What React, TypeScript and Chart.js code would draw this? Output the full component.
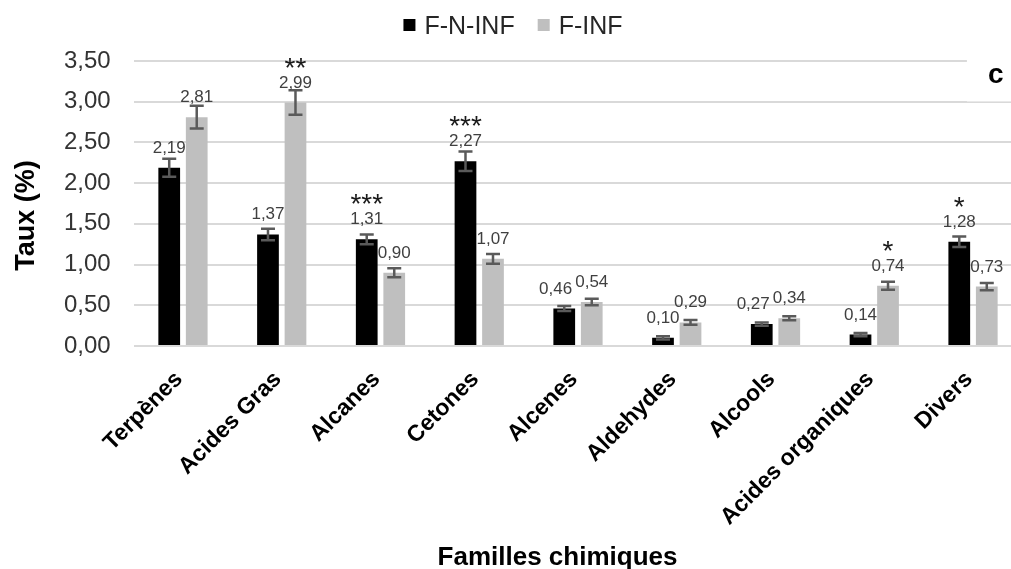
import React, { useEffect, useRef } from "react";
import { Chart, registerables } from "chart.js";

Chart.register(...registerables);

// ---- data ----
const categories = [
  "Terpènes",
  "Acides Gras",
  "Alcanes",
  "Cetones",
  "Alcenes",
  "Aldehydes",
  "Alcools",
  "Acides organiques",
  "Divers",
];
const seriesNames = ["F-N-INF", "F-INF"];
const fNInf = [2.19, 1.37, 1.31, 2.27, 0.46, 0.1, 0.27, 0.14, 1.28];
const fInf = [2.81, 2.99, 0.9, 1.07, 0.54, 0.29, 0.34, 0.74, 0.73];
const errNInf = [0.11, 0.07, 0.06, 0.12, 0.03, 0.02, 0.02, 0.02, 0.065];
const errInf = [0.14, 0.15, 0.055, 0.06, 0.04, 0.03, 0.025, 0.05, 0.045];
const sigNInf = ["", "", "***", "***", "", "", "", "", "*"];
const sigInf = ["", "**", "", "", "", "", "", "*", ""];
const yMin = 0;
const yMax = 3.5;
const yStep = 0.5;
const yTitle = "Taux (%)";
const xTitle = "Familles chimiques";
const panelLetter = "c";

// ---- styles ----
const FONT = "'Liberation Sans', Arial, sans-serif";
const COLORS = ["#000000", "#bfbfbf"];
const fmt = (v: number) => v.toFixed(2).replace(".", ",");

const overlayPlugin = {
  id: "overlay",
  beforeDatasetsDraw(chart: any) {
    const { ctx, chartArea } = chart;
    const y = chart.scales.y;
    ctx.save();
    ctx.fillStyle = "#ffffff";
    const top = y.getPixelForValue(yMax) - 3;
    const bot = y.getPixelForValue(3.0) - 0.3;
    ctx.fillRect(chartArea.right - 55.5, top, chart.width, bot - top);
    ctx.restore();
  },
  afterDatasetsDraw(chart: any) {
    const { ctx } = chart;
    const y = chart.scales.y;
    const errs = [errNInf, errInf];
    const sigs = [sigNInf, sigInf];
    ctx.save();
    // error bars
    ctx.strokeStyle = "#5a5a5a";
    ctx.lineWidth = 2.5;
    chart.data.datasets.forEach((ds: any, di: number) => {
      const meta = chart.getDatasetMeta(di);
      meta.data.forEach((bar: any, i: number) => {
        const v = ds.data[i];
        const e = errs[di][i];
        const yt = y.getPixelForValue(v + e);
        const yb = y.getPixelForValue(v - e);
        const x = bar.x;
        ctx.beginPath();
        ctx.moveTo(x, yt);
        ctx.lineTo(x, yb);
        ctx.moveTo(x - 7, yt);
        ctx.lineTo(x + 7, yt);
        ctx.moveTo(x - 7, yb);
        ctx.lineTo(x + 7, yb);
        ctx.stroke();
      });
    });
    // value labels + significance
    const m0 = chart.getDatasetMeta(0).data;
    const m1 = chart.getDatasetMeta(1).data;
    categories.forEach((_, i) => {
      ctx.font = `17px ${FONT}`;
      const t0 = fmt(fNInf[i]);
      const t1 = fmt(fInf[i]);
      const w0 = ctx.measureText(t0).width;
      const w1 = ctx.measureText(t1).width;
      let x0 = m0[i].x;
      const x1 = m1[i].x;
      const b0 = m0[i].y - 15;
      const b1 = m1[i].y - 15;
      const vOverlap = b0 > b1 - 13 && b1 > b0 - 13;
      const hOverlap = x0 + w0 / 2 - (x1 - w1 / 2);
      if (vOverlap && hOverlap > -2) x0 -= hOverlap + 3;
      ctx.fillStyle = "#404040";
      ctx.textAlign = "center";
      ctx.textBaseline = "alphabetic";
      ctx.fillText(t0, x0, b0);
      ctx.fillText(t1, x1, b1);
      ctx.font = `28px ${FONT}`;
      ctx.fillStyle = "#1a1a1a";
      if (sigs[0][i]) ctx.fillText(sigs[0][i], x0, b0 - 11);
      if (sigs[1][i]) ctx.fillText(sigs[1][i], x1, b1 - 11);
    });
    ctx.restore();
  },
  afterDraw(chart: any) {
    const { ctx, chartArea } = chart;
    const y = chart.scales.y;
    ctx.save();
    ctx.fillStyle = "#000";
    ctx.font = `bold 28px ${FONT}`;
    ctx.textAlign = "center";
    ctx.textBaseline = "alphabetic";
    ctx.fillText(panelLetter, chartArea.right - 26.5, y.getPixelForValue(yMax) + 22);

    ctx.font = `bold 26px ${FONT}`;
    ctx.fillText(xTitle, (chartArea.left + chartArea.right) / 2 - 20.5, chartArea.bottom + 219);

    ctx.save();
    ctx.translate(33.5, (chartArea.top + chartArea.bottom) / 2 + 12);
    ctx.rotate(-Math.PI / 2);
    ctx.font = `bold 27px ${FONT}`;
    ctx.fillText(yTitle, 0, 0);
    ctx.restore();

    // legend
    ctx.font = `25px ${FONT}`;
    ctx.textAlign = "left";
    const box = 12;
    const gapBT = 9;
    const gapItems = 23;
    const widths = seriesNames.map((s) => ctx.measureText(s).width);
    const total =
      widths.reduce((a, w) => a + box + gapBT + w, 0) + gapItems * (seriesNames.length - 1);
    let x = chart.width / 2 + 1 - total / 2;
    seriesNames.forEach((s, i) => {
      ctx.fillStyle = COLORS[i];
      ctx.fillRect(x, 19, box, box);
      x += box + gapBT;
      ctx.fillStyle = "#262626";
      ctx.fillText(s, x, 34);
      x += widths[i] + gapItems;
    });
    ctx.restore();
  },
};

export default function App() {
  const ref = useRef<HTMLCanvasElement | null>(null);
  useEffect(() => {
    document.body.style.margin = "0";
    const canvas = ref.current!;
    const chart = new Chart(canvas, {
      type: "bar",
      data: {
        labels: categories,
        datasets: [
          {
            label: seriesNames[0],
            data: fNInf,
            backgroundColor: COLORS[0],
            borderWidth: 0,
            categoryPercentage: 0.557,
            barPercentage: 0.79,
          },
          {
            label: seriesNames[1],
            data: fInf,
            backgroundColor: COLORS[1],
            borderWidth: 0,
            categoryPercentage: 0.557,
            barPercentage: 0.79,
          },
        ],
      },
      options: {
        responsive: false,
        animation: false,
        devicePixelRatio: 1,
        layout: { padding: { top: 61, left: 0, right: 1.6, bottom: 0 } },
        plugins: {
          legend: { display: false },
          tooltip: { enabled: false },
        },
        scales: {
          x: {
            grid: { display: false },
            border: { display: false },
            ticks: {
              autoSkip: false,
              minRotation: 45,
              maxRotation: 45,
              padding: 12,
              labelOffset: -4,
              color: "#000",
              font: { family: FONT, size: 23, weight: "bold" },
            },
            afterFit: (s: any) => {
              s.height = 223;
            },
          },
          y: {
            min: yMin,
            max: yMax,
            ticks: {
              stepSize: yStep,
              padding: 23,
              color: "#333",
              font: { family: FONT, size: 24 },
              callback: (v: any) => fmt(Number(v)),
            },
            grid: { color: "#d9d9d9", lineWidth: 2, drawTicks: false },
            border: { display: false },
            afterFit: (s: any) => {
              s.width = 133.6;
            },
          },
        },
      },
      plugins: [overlayPlugin],
    });
    return () => chart.destroy();
  }, []);
  return (
    <div style={{ width: 1011, height: 569, overflow: "hidden", background: "#fff" }}>
      <canvas ref={ref} width={1024} height={569} style={{ display: "block" }} />
    </div>
  );
}
